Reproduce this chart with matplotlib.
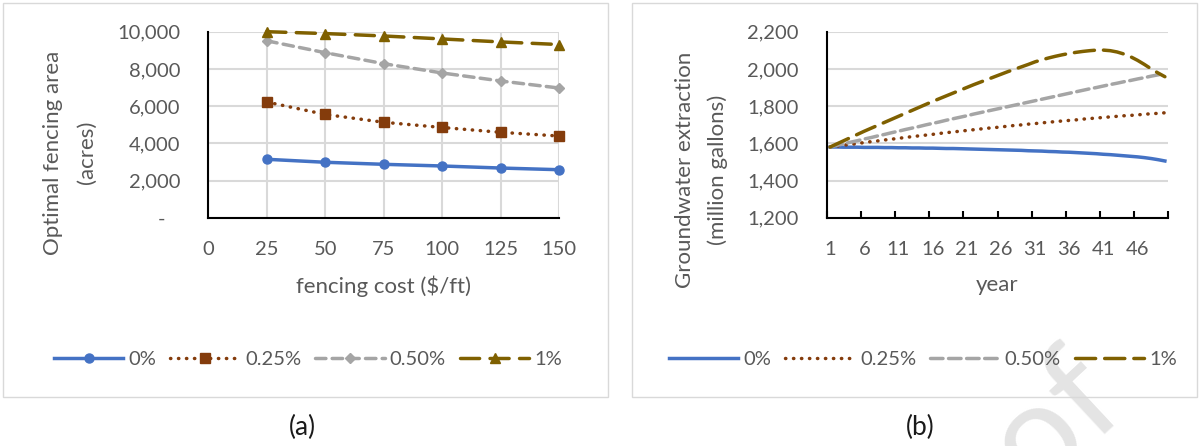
import matplotlib
matplotlib.use("Agg")
import matplotlib.pyplot as plt
import matplotlib.ticker as ticker
from matplotlib.patches import Rectangle

plt.rcParams["font.family"] = ["Lato", "DejaVu Sans"]

### Data ###
series_names = ["0%", "0.25%", "0.50%", "1%"]

# (a) optimal fencing area (acres) against fencing cost ($/ft)
cost = [25, 50, 75, 100, 125, 150]
area_0 = [3140, 2980, 2870, 2780, 2670, 2580]
area_025 = [6220, 5550, 5130, 4850, 4590, 4390]
area_050 = [9510, 8870, 8280, 7780, 7350, 6970]
area_1 = [10000, 9900, 9770, 9610, 9450, 9310]

# (b) groundwater extraction (million gallons) by year
years = list(range(1, 51))
gw_0 = [1580, 1580, 1579, 1579, 1579, 1578, 1578, 1578, 1577, 1577,
        1576, 1576, 1575, 1575, 1574, 1574, 1573, 1572, 1572, 1571,
        1570, 1569, 1568, 1567, 1566, 1565, 1564, 1563, 1562, 1560,
        1559, 1558, 1556, 1555, 1553, 1552, 1550, 1548, 1546, 1544,
        1541, 1539, 1536, 1533, 1530, 1527, 1523, 1518, 1512, 1505]
gw_025 = [1580, 1585, 1590, 1594, 1599, 1604, 1609, 1613, 1618, 1622,
          1627, 1631, 1636, 1640, 1644, 1648, 1653, 1657, 1661, 1665,
          1669, 1673, 1677, 1681, 1684, 1688, 1692, 1696, 1699, 1703,
          1706, 1710, 1713, 1717, 1720, 1723, 1726, 1730, 1733, 1736,
          1739, 1742, 1745, 1748, 1750, 1753, 1756, 1759, 1761, 1764]
gw_050 = [1580, 1589, 1597, 1606, 1614, 1623, 1631, 1640, 1648, 1657,
          1665, 1674, 1682, 1690, 1699, 1707, 1715, 1724, 1732, 1740,
          1748, 1757, 1765, 1773, 1781, 1789, 1797, 1805, 1813, 1821,
          1829, 1837, 1845, 1853, 1861, 1869, 1877, 1885, 1893, 1900,
          1908, 1916, 1923, 1931, 1938, 1946, 1953, 1961, 1968, 1976]
gw_1 = [1580, 1597, 1614, 1631, 1648, 1665, 1681, 1697, 1713, 1729,
        1745, 1761, 1777, 1793, 1809, 1825, 1840, 1855, 1870, 1885,
        1900, 1915, 1929, 1943, 1957, 1971, 1985, 1998, 2011, 2024,
        2038, 2049, 2059, 2068, 2076, 2083, 2089, 2094, 2098, 2101,
        2101, 2098, 2091, 2080, 2065, 2046, 2024, 2000, 1978, 1958]
year_labels = [1, 6, 11, 16, 21, 26, 31, 36, 41, 46]

### Styles ###
colors = ["#4472C4", "#843C0C", "#A5A5A5", "#7F6000"]
styles_a = ["-", (0, (0.1, 2.2)), (0, (3.0, 1.8)), (0, (5.5, 3.0))]
styles_b = ["-", (0, (0.1, 2.2)), (0, (3.6, 1.6)), (0, (5.8, 2.6))]
markers = ["o", "s", "D", "^"]
msizes = [6.5, 7, 5, 7.5]
TXT = "#595959"
GRID = "#D9D9D9"
W, H = 1199, 446


def fx(px):
    return px / W


def fy(py):
    return 1 - py / H


fig = plt.figure(figsize=(W / 100, H / 100), dpi=100)

# panel frames
for x0, x1 in [(2.5, 607.5), (631.5, 1196.5)]:
    fig.add_artist(Rectangle((fx(x0), fy(396.5)), (x1 - x0) / W, 394 / H,
                             transform=fig.transFigure, fill=False,
                             ec=GRID, lw=1, zorder=1))

# faint page watermark
fig.text(fx(1130), fy(410), "Journal Pre-proof", fontsize=100, color="#E4E4E4",
         rotation=43, rotation_mode="anchor", ha="right", va="baseline",
         zorder=0)

ax1 = fig.add_axes([fx(208.3), fy(217.7), 351 / W, 186 / H])
ax2 = fig.add_axes([fx(826.7), fy(217.7), 341.6 / W, 186 / H])

for ax in (ax1, ax2):
    ax.set_facecolor("none")
    ax.set_axisbelow(True)
    for s in ("top", "right"):
        ax.spines[s].set_visible(False)
    for s in ("left", "bottom"):
        ax.spines[s].set_color("black")
        ax.spines[s].set_linewidth(1.5)
    ax.tick_params(axis="y", length=0, labelsize=14.5, labelcolor=TXT, pad=20)

### (a) ###
area_series = [area_0, area_025, area_050, area_1]
for vals, c, ls, m, ms, name in zip(area_series, colors, styles_a, markers,
                                     msizes, series_names):
    ax1.plot(cost, vals, color=c, lw=2.5, ls=ls, dash_capstyle="round",
             marker=m, ms=ms, label=name, clip_on=False, zorder=3)

ax1.set_xlim(0, 150)
ax1.set_ylim(0, 10000)
ax1.set_xticks(range(0, 151, 25))
ax1.set_yticks(range(0, 10001, 2000))
ax1.yaxis.set_major_formatter(ticker.FuncFormatter(
    lambda v, p: "-   " if v == 0 else f"{int(v):,}"))
ax1.tick_params(axis="x", length=0, labelsize=14.5, labelcolor=TXT, pad=17)
ax1.grid(True, color=GRID, lw=1.5)
ax1.set_xlabel("fencing cost ($/ft)", fontsize=16, color=TXT)
ax1.xaxis.set_label_coords(0.5, -0.31)

fig.text(fx(53), fy(153), "Optimal fencing area", rotation=90, ha="center",
         va="center", fontsize=16, color=TXT)
fig.text(fx(86.5), fy(152.5), "(acres)", rotation=90, ha="center",
         va="center", fontsize=16, color=TXT)

h, l = ax1.get_legend_handles_labels()
fig.legend(h, l, loc="center", bbox_to_anchor=(fx(308), fy(359)), ncol=4,
           frameon=False, fontsize=14.5, handlelength=3.45,
           handletextpad=0.25, columnspacing=0.7, labelcolor=TXT)

### (b) ###
gw_series = [gw_0, gw_025, gw_050, gw_1]
for vals, c, ls, name in zip(gw_series, colors, styles_b, series_names):
    ax2.plot(years, vals, color=c, lw=2.5, ls=ls, dash_capstyle="round",
             label=name, clip_on=False, zorder=3)

ax2.set_xlim(0.5, 50.5)
ax2.set_ylim(1200, 2200)
ax2.set_yticks(range(1200, 2201, 200))
ax2.yaxis.set_major_formatter(ticker.FuncFormatter(lambda v, p: f"{int(v):,}"))
ax2.set_xticks([0.5 + 5 * k for k in range(11)])
ax2.set_xticklabels([])
ax2.set_xticks(year_labels, minor=True)
ax2.set_xticklabels([str(y) for y in year_labels], minor=True)
ax2.tick_params(axis="x", which="major", direction="in", length=5, width=1.5,
                color="black")
ax2.tick_params(axis="x", which="minor", length=0, labelsize=14.5,
                labelcolor=TXT, pad=17)
ax2.grid(True, axis="y", color=GRID, lw=1.5)
ax2.set_xlabel("year", fontsize=16, color=TXT)
ax2.xaxis.set_label_coords(0.5, -0.31)

fig.text(fx(685), fy(170), "Groundwater extraction", rotation=90,
         ha="center", va="center", fontsize=16, color=TXT)
fig.text(fx(717.5), fy(170), "(million gallons)", rotation=90, ha="center",
         va="center", fontsize=16, color=TXT)

h, l = ax2.get_legend_handles_labels()
fig.legend(h, l, loc="center", bbox_to_anchor=(fx(923), fy(359)), ncol=4,
           frameon=False, fontsize=14.5, handlelength=3.45,
           handletextpad=0.25, columnspacing=0.7, labelcolor=TXT)

fig.text(fx(302), fy(427), "(a)", ha="center", va="center", fontsize=19,
         color="#1A1A1A")
fig.text(fx(920), fy(427), "(b)", ha="center", va="center", fontsize=19,
         color="#1A1A1A")

fig.savefig("out.png", dpi=100)
